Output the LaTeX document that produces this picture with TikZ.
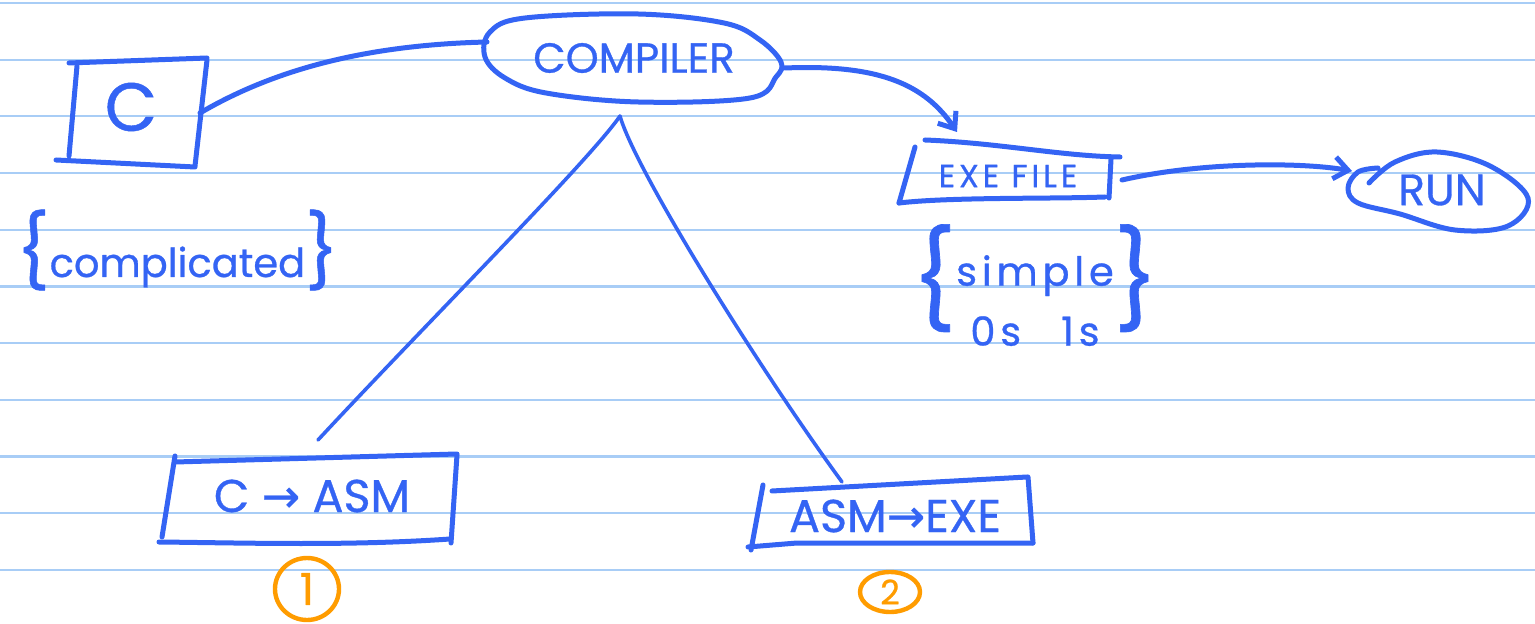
\documentclass[tikz,border=0pt]{standalone}
\usepackage{fontspec}
\setmainfont{Poppins}[FakeBold=0.7]
\newfontfamily\symfont{DejaVu Sans}[FakeBold=0.7]
\newfontfamily\widefont{Poppins}[LetterSpace=12,FakeBold=0.7]
\usetikzlibrary{arrows.meta,shapes.geometric}
\definecolor{ink}{HTML}{3464F4}
\definecolor{rulecol}{HTML}{A8CDF6}
\definecolor{orng}{HTML}{FF9C00}
\begin{document}
\begin{tikzpicture}[x=0.5pt,y=-0.5pt,line cap=round,line join=round,
  inkstroke/.style={draw=ink,line width=2.5pt},
  inkthin/.style={draw=ink,line width=1.8pt},
  lbl/.style={text=ink,inner sep=0pt},
  barb/.style={-{Straight Barb[length=7pt,width=11pt]}},
  numcirc/.style={draw=orng,line width=2.2pt,text=orng,ellipse,inner sep=0pt}]
\fill[white] (0,0) rectangle (1535,624);
\useasboundingbox (0,0) rectangle (1535,624);
\foreach \yy in {3,59.7,116.4,173.1,229.8,286.5,343.2,399.9,456.6,513.3,570}
  \draw[rulecol,line width=1.1pt] (0,\yy) -- (1535,\yy);

% C box
\node[lbl,font=\fontsize{34}{34}\selectfont] (ctext) at (131,107) {C};
\draw[inkstroke] (69,63) -- (207,58);
\draw[inkstroke] (77,66) -- (69,156);
\draw[inkstroke] (207,60) -- (195,166);
\draw[inkstroke] (56,160) -- (195,167);
\coordinate (cR) at (200,113);

% compiler
\node[lbl,font=\fontsize{21}{21}\selectfont] (comp) at (634,58) {COMPILER};
\draw[inkstroke] plot[smooth cycle,tension=0.6] coordinates
  {(485,57) (505,78) (546,93) (638,102) (750,98) (776,77) (781,62) (760,40) (724,23) (638,14) (525,18) (490,32)};
\coordinate (compW) at (487,42);
\coordinate (compE) at (785,68);
\coordinate (apex) at (620,116);

% exe file
\node[lbl,font=\widefont\fontsize{16}{16}\selectfont] (exe) at (1008,176) {EXE FILE};
\draw[inkstroke] (925,140) .. controls (1000,143) and (1060,156) .. (1120,157);
\draw[inkstroke] (915,147) -- (899,203);
\draw[inkstroke] (899,203) .. controls (950,197) and (1050,199) .. (1105,197);
\draw[inkstroke] (1111,159) -- (1109,198);
\coordinate (exeTip) at (957,132);
\coordinate (exeE) at (1122,180);

% run
\node[lbl,font=\fontsize{22}{22}\selectfont] (run) at (1442,190) {RUN};
\draw[inkstroke] plot[smooth,tension=0.6] coordinates
  {(1369,183) (1395,162) (1437,152) (1490,166) (1528,198) (1508,226) (1455,230) (1400,214) (1358,203) (1348,188) (1358,172) (1378,168)};
\coordinate (runTip) at (1352,171);

% connectors
\draw[inkstroke] (cR) .. controls (270,72) and (360,45) .. (compW);
\draw[inkstroke,barb] (compE) .. controls (880,64) and (925,85) .. (exeTip);
\draw[inkstroke,barb] (exeE) .. controls (1200,162) and (1300,162) .. (runTip);

% notes
\node[lbl,anchor=base west,font=\fontsize{20}{20}\selectfont] (compl) at (16,277)
  {{\fontsize{36}{36}\selectfont\{}complicated{\fontsize{36}{36}\selectfont\}}};
\node[lbl,font=\widefont\fontsize{20}{30}\selectfont] (simp) at (1035,294)
  {{\fontsize{48}{48}\selectfont\{}\begin{tabular}{@{}c@{}}simple\\0s\quad 1s\end{tabular}{\fontsize{48}{48}\selectfont\}}};

% steps
\node[lbl,font=\fontsize{23}{23}\selectfont] (asm1) at (312,496) {C {\symfont →} ASM};
\draw[inkstroke] (175,462) -- (457,454);
\draw[inkstroke] (175,456) -- (162,537);
\draw[inkstroke] (159,542) .. controls (250,543) and (350,546) .. (450,539);
\draw[inkstroke] (457,455) -- (451,543);
\coordinate (lEnd) at (318,440);

\node[lbl,font=\fontsize{23}{23}\selectfont] (asm2) at (895,516) {ASM{\symfont →}EXE};
\draw[inkstroke] (772,491) -- (1027,477);
\draw[inkstroke] (763,485) -- (751,550);
\draw[inkstroke] (748,547) -- (797,543) -- (1033,543);
\draw[inkstroke] (1028,477) -- (1033,543);
\coordinate (rEnd) at (842,482);

\draw[inkthin] (apex) .. controls (590,160) and (420,330) .. (lEnd);
\draw[inkthin] (apex) .. controls (635,170) and (760,370) .. (rEnd);

\node[numcirc,minimum width=32pt,minimum height=31pt,font=\fontsize{22}{22}\selectfont] (one) at (307,589) {1};
\node[numcirc,minimum width=30pt,minimum height=20pt,font=\fontsize{17}{17}\selectfont] (two) at (890,592) {2};
\end{tikzpicture}
\end{document}
